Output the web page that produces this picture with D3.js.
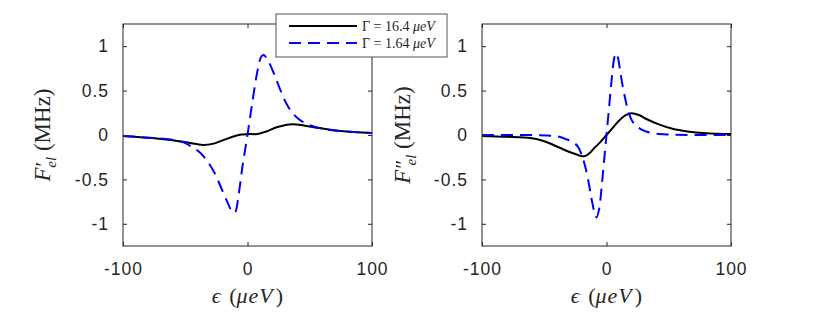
<!DOCTYPE html>
<html lang="en">
<head>
    <meta charset="UTF-8">
    <title>F_el vs epsilon</title>
    <style>
        html,body{
            margin:0;
            background:#fff;
            overflow:hidden;
        }
        .tick text{ font-family:"Liberation Sans", Arial, sans-serif; letter-spacing:1px; }
    </style>
</head>
<body>
    <svg id="svg"></svg>
    <script src="https://d3js.org/d3.v7.min.js"></script>
    <script>
        // values (epsilon in ueV, F in MHz)
        const xTicks = [-100, 0, 100];
        const yTicks = [-1, -0.5, 0, 0.5, 1];
        const legendLabels = ['16.4', '1.64'];

        const epsLeftBroad = [-100,-80,-62,-48,-36,-28,-20,-12,-5,0,8,15,24,36,46,58,75,100];
        const fLeftBroad   = [-0.01,-0.03,-0.055,-0.085,-0.112,-0.1,-0.06,-0.02,0.005,0.01,0.012,0.04,0.09,0.122,0.105,0.078,0.045,0.022];

        const epsLeftNarrow = [-100,-80,-62,-52,-45,-38,-32,-26,-21,-16,-12,-10,-7,-4,0,4,8,11,13,16,21,26,31,36,42,50,60,75,100];
        const fLeftNarrow   = [-0.01,-0.03,-0.05,-0.08,-0.13,-0.2,-0.3,-0.44,-0.6,-0.76,-0.87,-0.87,-0.66,-0.35,0,0.38,0.72,0.88,0.9,0.85,0.7,0.52,0.36,0.25,0.17,0.11,0.07,0.045,0.022];

        const epsRightBroad = [-100,-80,-61,-50,-43,-35,-28,-22,-18,-14,-10,-5,0,5,10,15,20,26,32,42,53,65,80,100];
        const fRightBroad   = [-0.01,-0.02,-0.035,-0.07,-0.11,-0.16,-0.2,-0.23,-0.24,-0.21,-0.15,-0.08,0,0.08,0.16,0.22,0.245,0.225,0.18,0.12,0.07,0.04,0.02,0.01];

        const epsRightNarrow = [-100,-70,-48,-38,-32,-27,-23,-20,-17,-14,-12,-9.5,-8,-6,-4,-2,0,2,4,6,7.5,9,11,13,15.5,18,21,24,30,37,50,70,100];
        const fRightNarrow   = [0,0,-0.005,-0.02,-0.05,-0.08,-0.13,-0.22,-0.36,-0.56,-0.72,-0.88,-0.93,-0.84,-0.6,-0.3,0,0.3,0.6,0.85,0.92,0.88,0.72,0.55,0.38,0.24,0.15,0.1,0.05,0.02,0.005,0,0];

        const width = 817, height = 316;
        const svg = d3.select('#svg').attr('width', width).attr('height', height);

        const plotTop = 24, plotBottom = 246;
        const panels = [
            { left: 123, right: 372, primes: '\u2032', labelX: 50,
              series: [[epsLeftBroad, fLeftBroad], [epsLeftNarrow, fLeftNarrow]] },
            { left: 482, right: 731, primes: '\u2033', labelX: 410,
              series: [[epsRightBroad, fRightBroad], [epsRightNarrow, fRightNarrow]] }
        ];
        const styles = [
            { color: '#000', dash: null },
            { color: '#0000ff', dash: '12,7' }
        ];
        const axisColor = '#262626';

        panels.forEach((p, pi) => {
            const x = d3.scaleLinear().domain([-100, 100]).range([p.left, p.right]);
            const y = d3.scaleLinear().domain([-1.25, 1.25]).range([plotBottom, plotTop]);
            const g = svg.append('g');

            g.append('defs').append('clipPath').attr('id', 'clip' + pi)
                .append('rect').attr('x', p.left).attr('y', plotTop)
                .attr('width', p.right - p.left).attr('height', plotBottom - plotTop);

            const line = d3.line()
                .x(d => x(d[0]))
                .y(d => y(d[1]))
                .curve(d3.curveCatmullRom.alpha(0.5));

            p.series.forEach((s, si) => {
                const pts = s[0].map((e, i) => [e, s[1][i]]);
                g.append('path')
                    .datum(pts)
                    .attr('clip-path', `url(#clip${pi})`)
                    .attr('d', line)
                    .attr('fill', 'none')
                    .attr('stroke', styles[si].color)
                    .attr('stroke-width', 2)
                    .attr('stroke-dasharray', styles[si].dash);
            });

            // axes with inward ticks on all four sides
            const fmt = d => String(d);
            const axB = g.append('g').attr('transform', `translate(0,${plotBottom})`)
                .call(d3.axisBottom(x).tickValues(xTicks).tickSize(-4).tickPadding(17).tickFormat(fmt));
            const axT = g.append('g').attr('transform', `translate(0,${plotTop})`)
                .call(d3.axisTop(x).tickValues(xTicks).tickSize(-4).tickFormat(''));
            const axL = g.append('g').attr('transform', `translate(${p.left},0)`)
                .call(d3.axisLeft(y).tickValues(yTicks).tickSize(-4).tickPadding(14).tickFormat(fmt));
            const axR = g.append('g').attr('transform', `translate(${p.right},0)`)
                .call(d3.axisRight(y).tickValues(yTicks).tickSize(-4).tickFormat(''));
            [axB, axT, axL, axR].forEach(a => {
                a.select('.domain').remove();
                a.selectAll('.tick line').attr('stroke', axisColor).attr('stroke-width', 1);
                a.selectAll('.tick text').attr('fill', '#262626').attr('font-size', 17.5);
            });
            g.append('rect')
                .attr('x', p.left).attr('y', plotTop)
                .attr('width', p.right - p.left).attr('height', plotBottom - plotTop)
                .attr('fill', 'none').attr('stroke', axisColor).attr('stroke-width', 1);

            // x label: epsilon (mu eV)
            const xl = g.append('text')
                .attr('x', (p.left + p.right) / 2).attr('y', 303)
                .attr('text-anchor', 'middle')
                .attr('font-family', '"Liberation Serif", serif')
                .attr('font-size', 22).attr('fill', '#262626');
            xl.append('tspan').attr('font-style', 'italic').text('\u03f5');
            xl.append('tspan').attr('dx', 3).text(' (');
            xl.append('tspan').attr('font-style', 'italic').attr('letter-spacing', 1).text('\u03bceV');
            xl.append('tspan').attr('dx', 2).text(')');

            // y label: F'_el (MHz)
            const yl = g.append('text')
                .attr('transform', `translate(${p.labelX},${(plotTop + plotBottom) / 2}) rotate(-90)`)
                .attr('text-anchor', 'middle')
                .attr('font-family', '"Liberation Serif", serif')
                .attr('font-size', 23).attr('fill', '#262626');
            yl.append('tspan').attr('font-style', 'italic').text('F');
            yl.append('tspan').attr('font-size', 22).attr('dx', 1).text(p.primes);
            yl.append('tspan').attr('font-style', 'italic').attr('font-size', 15)
                .attr('dy', 6).attr('dx', p.primes.length > 1 ? -12 : -6).text('el');
            yl.append('tspan').attr('dy', -6).text(' (MHz)');
        });

        // legend
        const lg = svg.append('g');
        lg.append('rect')
            .attr('x', 276).attr('y', 14).attr('width', 171).attr('height', 43)
            .attr('fill', '#fff').attr('stroke', '#555').attr('stroke-width', 1);
        legendLabels.forEach((lab, i) => {
            const ly = 26 + i * 17;
            lg.append('line')
                .attr('x1', 289).attr('x2', 357).attr('y1', ly).attr('y2', ly)
                .attr('stroke', styles[i].color).attr('stroke-width', 2)
                .attr('stroke-dasharray', styles[i].dash);
            const t = lg.append('text')
                .attr('x', 362).attr('y', ly + 5)
                .attr('font-family', '"Liberation Serif", serif')
                .attr('font-size', 14).attr('fill', '#262626');
            t.append('tspan').text(`\u0393 = ${lab} `);
            t.append('tspan').attr('font-style', 'italic').text('\u03bceV');
        });
    </script>
</body>
</html>
